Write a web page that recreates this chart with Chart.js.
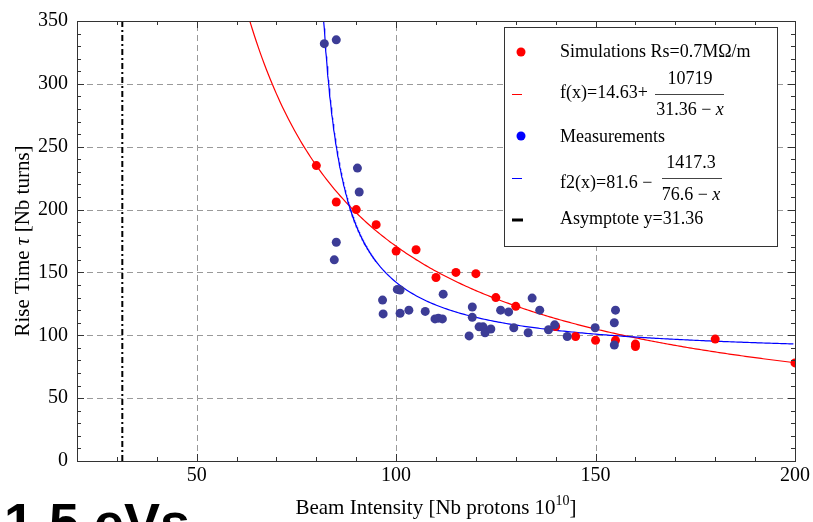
<!DOCTYPE html>
<html><head><meta charset="utf-8">
<script src="https://cdn.jsdelivr.net/npm/chart.js@4/dist/chart.umd.min.js"></script>
<style>html,body{margin:0;padding:0;background:#fff;}canvas{display:block;}</style>
</head><body>
<canvas id="c" width="813" height="522"></canvas>
<script>
// ---- data ----
const simX = [80, 85, 90, 95, 100, 105, 110, 115, 120, 125, 130, 140, 145, 150, 155, 160, 160, 180, 200];
const simY = [235, 206, 200, 188, 167, 168, 146, 150, 149, 130, 123, 107, 99, 96, 96, 93, 91, 97, 78];
const measX = [82, 85, 90.3, 90.75, 85, 84.5, 96.6, 96.75, 100.3, 101, 101, 103.2, 107.3, 109.75, 110.6, 111.6, 111.8, 118.3, 119.1, 119.1, 120.8, 121.8, 122.3, 123.75, 126.2, 128.2, 129.5, 133.1, 134.1, 136, 138.2, 139.75, 142.9, 149.9, 154.7, 155, 154.7];
const measY = [332, 335, 233, 214, 174, 160, 128, 117, 136.5, 136, 117.5, 120, 119, 113, 113.6, 113, 132.7, 99.5, 122.5, 114.3, 106.7, 106.7, 102, 105, 120, 118.6, 106, 102, 129.6, 120, 104.4, 108.3, 99, 106, 110, 120, 92.3];
// fit parameters as printed in the legend
const fitRed = [14.63, 10719, 31.36];   // f(x)  = a + b/(x - c)
const fitBlue = [81.6, 1417.3, 76.6];   // f2(x) = a - b/(c - x)
const asymptoteX = [31.36, 31.36];
const asymptoteY = [0, 350];
const xTickLabels = [50, 100, 150, 200];
const yTickLabels = [0, 50, 100, 150, 200, 250, 300, 350];
const legendLabels = ["Simulations Rs=0.7M\u03A9/m", "Measurements", "Asymptote y=31.36"];

const redCurve = [];
for (let x = 60; x <= 200.001; x += 0.5) redCurve.push({x: x, y: fitRed[0] + fitRed[1] / (x - fitRed[2])});
const blueCurve = [];
for (let x = 81.5; x <= 200.001; x += (x < 95 ? 0.1 : 0.5)) blueCurve.push({x: x, y: fitBlue[0] - fitBlue[1] / (fitBlue[2] - x)});

const SERIF = '"Liberation Serif", "Times New Roman", serif';

const framePlugin = {
  id: 'frame',
  beforeDatasetsDraw(chart) {
    const {ctx, chartArea: a, scales: {x, y}} = chart;
    ctx.save();
    ctx.strokeStyle = '#9a9a9a'; ctx.lineWidth = 1; ctx.setLineDash([6, 4]);
    xTickLabels.forEach(v => { if (v > 20 && v < 200) { const px = Math.round(x.getPixelForValue(v)) + 0.5; ctx.beginPath(); ctx.moveTo(px, a.bottom); ctx.lineTo(px, a.top); ctx.stroke(); }});
    yTickLabels.forEach(v => { if (v > 0 && v < 350) { const py = Math.round(y.getPixelForValue(v)) + 0.5; ctx.beginPath(); ctx.moveTo(a.left, py); ctx.lineTo(a.right, py); ctx.stroke(); }});
    ctx.restore();
  },
  afterDatasetsDraw(chart) {
    const {ctx, chartArea: a, scales: {x, y}} = chart;
    ctx.save();
    ctx.strokeStyle = '#333'; ctx.lineWidth = 1; ctx.setLineDash([]);
    ctx.strokeRect(Math.round(a.left) + 0.5, Math.round(a.top) + 0.5, Math.round(a.right - a.left), Math.round(a.bottom - a.top));
    ctx.beginPath();
    for (let v = 20; v <= 200; v += 10) {
      const px = Math.round(x.getPixelForValue(v)) + 0.5; const L = v % 50 === 0 ? 7 : 4;
      ctx.moveTo(px, a.bottom); ctx.lineTo(px, a.bottom - L);
      ctx.moveTo(px, a.top); ctx.lineTo(px, a.top + L);
    }
    for (let v = 0; v <= 350; v += 10) {
      const py = Math.round(y.getPixelForValue(v)) + 0.5; const L = v % 50 === 0 ? 7 : 4;
      ctx.moveTo(a.left, py); ctx.lineTo(a.left + L, py);
      ctx.moveTo(a.right, py); ctx.lineTo(a.right - L, py);
    }
    ctx.stroke();
    ctx.restore();
  },
  afterDraw(chart) {
    const {ctx, chartArea: a} = chart;
    ctx.save();
    ctx.fillStyle = '#000';
    // y title
    const ft = '21px ' + SERIF, fti = 'italic 21px ' + SERIF;
    ctx.save();
    ctx.translate(23, (a.top + a.bottom) / 2);
    ctx.rotate(-Math.PI / 2);
    ctx.textBaseline = 'middle';
    const p1 = 'Rise Time ', p2 = '\u03C4', p3 = ' [Nb turns]';
    ctx.font = ft; const w1 = ctx.measureText(p1).width, w3 = ctx.measureText(p3).width;
    ctx.font = fti; const w2 = ctx.measureText(p2).width;
    let sx = -(w1 + w2 + w3) / 2;
    ctx.textAlign = 'left';
    ctx.font = ft; ctx.fillText(p1, sx, 0);
    ctx.font = fti; ctx.fillText(p2, sx + w1, 0);
    ctx.font = ft; ctx.fillText(p3, sx + w1 + w2, 0);
    ctx.restore();
    // x title
    const t1 = 'Beam Intensity [Nb protons 10', t2 = '10', t3 = ']';
    const fs = '14px ' + SERIF;
    ctx.font = ft; const v1 = ctx.measureText(t1).width, v3 = ctx.measureText(t3).width;
    ctx.font = fs; const v2 = ctx.measureText(t2).width;
    let tx = (a.left + a.right) / 2 - (v1 + v2 + v3) / 2, ty = 514;
    ctx.textAlign = 'left'; ctx.textBaseline = 'alphabetic';
    ctx.font = ft; ctx.fillText(t1, tx, ty);
    ctx.font = fs; ctx.fillText(t2, tx + v1, ty - 9);
    ctx.font = ft; ctx.fillText(t3, tx + v1 + v2, ty);
    // big label
    ctx.font = 'bold 54px "Liberation Sans", Arial, sans-serif';
    ctx.fillText('1.5 eVs', 4, 541);

    // legend
    const f = '18px ' + SERIF, fi = 'italic 18px ' + SERIF;
    ctx.fillStyle = '#fff'; ctx.fillRect(504, 27, 274, 220);
    ctx.strokeStyle = '#333'; ctx.lineWidth = 1; ctx.strokeRect(504.5, 27.5, 273, 219);
    ctx.fillStyle = '#000'; ctx.font = f; ctx.textBaseline = 'middle'; ctx.textAlign = 'left';
    // row 1
    ctx.fillStyle = '#ff0000'; ctx.beginPath(); ctx.arc(521, 52, 4.5, 0, Math.PI * 2); ctx.fill();
    ctx.fillStyle = '#000'; ctx.fillText(legendLabels[0], 560, 52);
    // row 2: f(x)
    ctx.strokeStyle = '#ff0000'; ctx.lineWidth = 1; ctx.beginPath(); ctx.moveTo(512, 94.5); ctx.lineTo(522, 94.5); ctx.stroke();
    ctx.fillText('f(x)=' + fitRed[0] + '+', 560, 93);
    const frac = (num, denA, cx, yNum, yBar, yDen, x0, x1) => {
      ctx.textAlign = 'center'; ctx.font = f; ctx.fillText(num, cx, yNum);
      ctx.strokeStyle = '#444'; ctx.lineWidth = 1; ctx.beginPath(); ctx.moveTo(x0, yBar + 0.5); ctx.lineTo(x1, yBar + 0.5); ctx.stroke();
      ctx.font = f; const wa = ctx.measureText(denA).width; ctx.font = fi; const wb = ctx.measureText('x').width;
      ctx.textAlign = 'left'; const s = cx - (wa + wb) / 2;
      ctx.font = f; ctx.fillText(denA, s, yDen); ctx.font = fi; ctx.fillText('x', s + wa, yDen);
      ctx.font = f;
    };
    frac(String(fitRed[1]), fitRed[2] + ' \u2212 ', 690, 79, 94, 110, 655, 724);
    // row 3
    ctx.fillStyle = '#0000ff'; ctx.beginPath(); ctx.arc(521, 136, 4.5, 0, Math.PI * 2); ctx.fill();
    ctx.fillStyle = '#000'; ctx.textAlign = 'left'; ctx.fillText(legendLabels[1], 560, 137);
    // row 4: f2(x)
    ctx.strokeStyle = '#0000ff'; ctx.lineWidth = 1; ctx.beginPath(); ctx.moveTo(512, 178.5); ctx.lineTo(522, 178.5); ctx.stroke();
    ctx.textAlign = 'left'; ctx.fillText('f2(x)=' + fitBlue[0] + ' \u2212', 560, 183);
    frac(String(fitBlue[1]), fitBlue[2] + ' \u2212 ', 691, 163, 178, 195, 662, 722);
    // row 5
    ctx.strokeStyle = '#000'; ctx.lineWidth = 3; ctx.beginPath(); ctx.moveTo(512, 220); ctx.lineTo(523, 220); ctx.stroke();
    ctx.textAlign = 'left'; ctx.fillText(legendLabels[2], 560, 219);
    ctx.restore();
  }
};

new Chart(document.getElementById('c'), {
  type: 'scatter',
  data: {
    datasets: [
      { label: 'asym', type: 'line', data: asymptoteX.map((x, i) => ({x: x, y: asymptoteY[i]})), borderColor: '#000', borderWidth: 2, borderDash: [6, 3, 2, 3], pointRadius: 0, order: 5 },
      { label: 'f', type: 'line', data: redCurve, borderColor: '#ff0000', borderWidth: 1.2, pointRadius: 0, tension: 0, order: 4 },
      { label: 'f2', type: 'line', data: blueCurve, borderColor: '#0000ff', borderWidth: 1.2, pointRadius: 0, tension: 0, order: 3 },
      { label: 'Simulations', data: simX.map((x, i) => ({x: x, y: simY[i]})), backgroundColor: '#ff0000', borderWidth: 0, pointRadius: 4.5, order: 2 },
      { label: 'Measurements', data: measX.map((x, i) => ({x: x, y: measY[i]})), backgroundColor: '#3c3c96', borderWidth: 0, pointRadius: 4.5, order: 1 }
    ]
  },
  options: {
    responsive: false, animation: false, devicePixelRatio: 1,
    layout: { padding: { left: 0, right: 17, top: 16, bottom: 0 } },
    plugins: { legend: { display: false }, tooltip: { enabled: false } },
    scales: {
      x: { type: 'linear', min: 20, max: 200,
        afterFit: s => { s.height = 61; },
        grid: { display: false, drawTicks: false }, border: { display: false },
        ticks: { stepSize: 10, autoSkip: false, maxRotation: 0, padding: 3, color: '#000', font: { family: SERIF, size: 20 },
          callback: v => xTickLabels.includes(v) ? String(v) : '' } },
      y: { type: 'linear', min: 0, max: 350,
        afterFit: s => { s.width = 77; },
        grid: { display: false, drawTicks: false }, border: { display: false },
        ticks: { stepSize: 10, autoSkip: false, padding: 9, color: '#000', font: { family: SERIF, size: 20 },
          callback: v => yTickLabels.includes(v) ? String(v) : '' } }
    }
  },
  plugins: [framePlugin]
});
</script>
</body></html>
